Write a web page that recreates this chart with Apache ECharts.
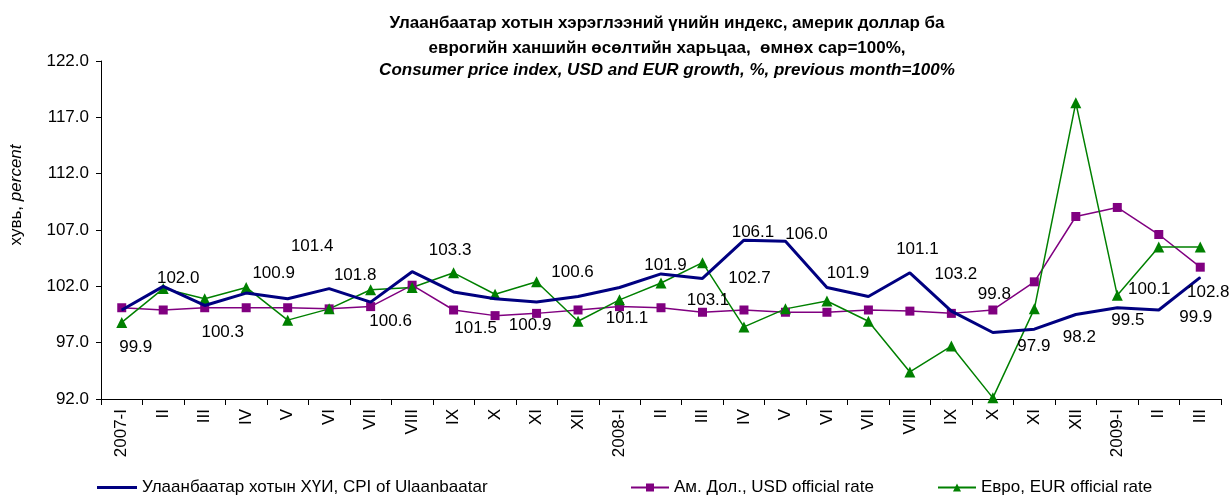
<!DOCTYPE html>
<html>
<head>
<meta charset="utf-8">
<title>CPI, USD, EUR</title>
<script src="https://cdn.jsdelivr.net/npm/echarts@6/dist/echarts.min.js"></script>
<style>
    html, body { margin: 0; padding: 0; background: #fff; }
    #main { width: 1232px; height: 495px; }
</style>
</head>
<body>
<div id="main"></div>
<script>
// month labels, 2007-I .. 2009-III
let categories = ['2007-I', 'II', 'III', 'IV', 'V', 'VI', 'VII', 'VIII', 'IX', 'X', 'XI', 'XII',
    '2008-I', 'II', 'III', 'IV', 'V', 'VI', 'VII', 'VIII', 'IX', 'X', 'XI', 'XII',
    '2009-I', 'II', 'III'];
// Улаанбаатар хотын ХҮИ
let cpi = [99.9, 102.0, 100.3, 101.4, 100.9, 101.8, 100.6, 103.3, 101.5, 100.9, 100.6, 101.1,
    101.9, 103.1, 102.7, 106.1, 106.0, 101.9, 101.1, 103.2, 99.8, 97.9, 98.2, 99.5,
    100.1, 99.9, 102.8];
// USD official rate
let usd = [100.1, 99.9, 100.1, 100.1, 100.1, 100.0, 100.2, 102.1, 99.9, 99.4, 99.6, 99.9,
    100.2, 100.1, 99.7, 99.9, 99.7, 99.7, 99.9, 99.8, 99.6, 99.9, 102.4, 108.2,
    109.0, 106.6, 103.7];
// EUR official rate
let eur = [98.8, 101.8, 100.9, 101.9, 99.0, 100.0, 101.7, 101.9, 103.2, 101.3, 102.4, 98.9,
    100.8, 102.3, 104.1, 98.4, 100.0, 100.7, 98.9, 94.4, 96.7, 92.1, 100.0, 118.3,
    101.2, 105.5, 105.5];
let yTicks = [92, 97, 102, 107, 112, 117, 122];
let names = ['Улаанбаатар хотын ХҮИ, CPI of Ulaanbaatar', 'Ам. Дол., USD official rate', 'Евро, EUR official rate'];

// label shifts for the CPI data labels (they sit off the points in the original)
let cpiLabelShift = [[14, 37], [15, -8], [18, 27], [66, -47], [-14, -25], [26, -13], [20, 19], [38, -21],
    [22, 36], [35, 27], [36, -30], [49, 22], [46, -22], [47, 26], [47, 0], [9, -8], [21, -7],
    [21, -14], [49, -47], [46, 1], [43, -17], [41, 14], [45, 8], [52, 6], [32, -18], [37, 7], [8, 15]];

let font = 'Liberation Sans, Arial, sans-serif';
let myChart = echarts.init(document.getElementById('main'));

let option = {
    animation: false,
    textStyle: { fontFamily: font },
    title: {
        text: 'Улаанбаатар хотын хэрэглээний үнийн индекс, америк доллар ба\nеврогийн ханшийн өсөлтийн харьцаа,  өмнөх сар=100%,',
        subtext: 'Consumer price index, USD and EUR growth, %, previous month=100%',
        left: 667,
        top: 11,
        textAlign: 'center',
        padding: 0,
        itemGap: 0,
        textStyle: { fontSize: 17, fontWeight: 'bold', color: '#000', lineHeight: 25, fontFamily: font },
        subtextStyle: { fontSize: 17, fontWeight: 'bold', fontStyle: 'italic', color: '#000', lineHeight: 19, fontFamily: font }
    },
    legend: [
        {
            left: 97, top: 479, padding: 0, itemWidth: 40, itemHeight: 3, itemGap: 0,
            textStyle: { fontSize: 17, color: '#000', fontFamily: font },
            data: [{ name: names[0], icon: 'rect' }]
        },
        {
            left: 630, top: 479, padding: 0, itemWidth: 38, itemHeight: 10, itemGap: 0,
            textStyle: { fontSize: 17, color: '#000', fontFamily: font },
            data: [names[1]]
        },
        {
            left: 937, top: 479, padding: 0, itemWidth: 38, itemHeight: 10, itemGap: 0,
            textStyle: { fontSize: 17, color: '#000', fontFamily: font },
            data: [names[2]]
        }
    ],
    grid: { left: 100, right: 11, top: 61, bottom: 96 },
    xAxis: {
        type: 'category',
        data: categories,
        boundaryGap: true,
        axisLine: { lineStyle: { color: '#000', width: 1 } },
        axisTick: { show: true, length: 6, lineStyle: { color: '#000' } },
        axisLabel: { interval: 0, rotate: 90, margin: 10, fontSize: 17, color: '#000', fontFamily: font }
    },
    yAxis: {
        type: 'value',
        min: 92,
        max: 122,
        name: '{a|хувь, }{b|percent}',
        nameLocation: 'middle',
        nameGap: 76,
        nameRotate: 90,
        nameTextStyle: {
            padding: [0, 0, 0, 70],
            rich: {
                a: { fontSize: 17, color: '#000', fontFamily: font },
                b: { fontSize: 17, color: '#000', fontStyle: 'italic', fontFamily: font }
            }
        },
        axisLine: { show: true, lineStyle: { color: '#000', width: 1 } },
        axisTick: { show: true, length: 5, customValues: yTicks, lineStyle: { color: '#000' } },
        axisLabel: {
            customValues: yTicks,
            margin: 12,
            fontSize: 17,
            color: '#000',
            fontFamily: font,
            formatter: function(v) { return v.toFixed(1); }
        },
        splitLine: { show: false }
    },
    series: [
        {
            name: names[0],
            type: 'line',
            data: cpi.map((v, i) => ({
                value: v,
                label: { offset: cpiLabelShift[i] }
            })),
            symbol: 'circle',
            symbolSize: 1,
            lineStyle: { color: '#000080', width: 3 },
            itemStyle: { color: '#000080' },
            label: {
                show: true,
                position: 'inside',
                fontSize: 17,
                color: '#000',
                fontFamily: font,
                formatter: p => p.value.toFixed(1)
            },
            z: 3
        },
        {
            name: names[1],
            type: 'line',
            data: usd,
            symbol: 'rect',
            symbolSize: 9,
            lineStyle: { color: '#800080', width: 1.5 },
            itemStyle: { color: '#800080' },
            z: 2
        },
        {
            name: names[2],
            type: 'line',
            data: eur,
            symbol: 'triangle',
            symbolSize: 11,
            lineStyle: { color: '#008000', width: 1.5 },
            itemStyle: { color: '#008000' },
            z: 2
        }
    ]
};

myChart.setOption(option);
</script>
</body>
</html>
